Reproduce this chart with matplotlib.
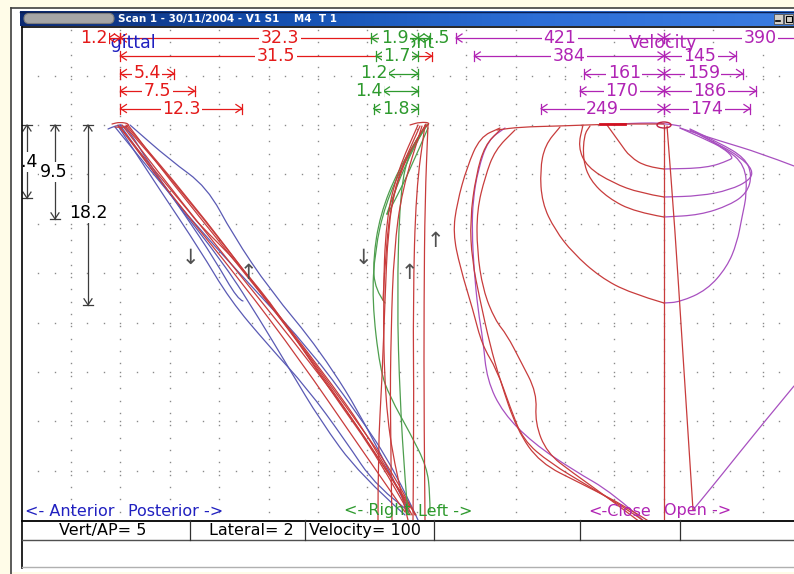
import numpy as np
import matplotlib
matplotlib.use("Agg")
import matplotlib.pyplot as plt
from matplotlib.patches import Rectangle, FancyBboxPatch, Ellipse, PathPatch
from matplotlib.path import Path
from matplotlib.colors import LinearSegmentedColormap

plt.rcParams['font.family'] = ['DejaVu Sans']

# ------------------------------------------------------------------ data
title_text = "Scan 1 - 30/11/2004 - V1 S1    M4  T 1"
panel_labels = ["Sagittal", "Front", "Velocity"]
sag_dir_labels = ["<- Anterior", "Posterior ->"]
lat_dir_labels = ["<- Right", "Left ->"]
vel_dir_labels = ["<-Close", "Open ->"]
status_texts = ["Vert/AP= 5", "Lateral= 2", "Velocity= 100"]

vert_ap_per_cell = 5.0      # mm per grid cell
lateral_per_cell = 2.0      # mm per grid cell
velocity_per_cell = 100.0   # units per grid cell

sag_first_value = 1.2
sag_row_values = [32.3, 31.5, 5.4, 7.5, 12.3]
sag_vertical_values = [7.4, 9.5, 18.2]
lat_left_values = [1.9, 1.7, 1.2, 1.4, 1.8]
lat_right_value_text = ".5"
vel_left_values = [421, 384, 161, 170, 249]
vel_right_values = [390, 145, 159, 186, 174]

# traces (screen units)
sag_red_traces = [
    [(118,125),(175,200),(240,280),(300,360),(355,440),(405,512)],
    [(122,125),(180,200),(248,285),(310,362),(368,440),(410,508)],
    [(125,126),(185,195),(255,285),(318,365),(375,445),(412,515)],
    [(128,125),(170,180),(230,255),(290,330),(345,405),(395,475),(415,515)],
    [(120,127),(150,165),(192,215),(197,222),(240,265),(280,315),(330,390),(380,460),(410,515)],
    [(126,125),(190,200),(255,285),(315,365),(370,445),(416,515)],
    [(112,124),(120,122),(130,124),(125,128),(115,127)],
]
sag_blue_traces = [
    [(108,129),(115,126),(125,124),(150,165),(185,215),(215,260),(238,300),(243,301)],
    [(118,126),(160,190),(200,250),(230,300),(268,345),(307,388),(345,440),(377,488),(410,512)],
    [(120,125),(170,195),(225,265),(260,320),(290,370),(320,420),(360,475),(405,515)],
    [(115,127),(150,170),(200,230),(255,290),(310,350),(355,410),(395,470),(418,520)],
    [(130,125),(170,160),(207,187),(233,235),(270,290),(320,350),(370,430),(408,510)],
]
lat_red_traces = [
    [(428,125),(425,200),(424,300),(424,420),(425,520)],
    [(425,125),(416,190),(413,300),(414,420),(413,520)],
    [(422,126),(402,190),(394,250),(391,330),(390,420),(392,520)],
    [(420,126),(396,180),(388,230),(385,300),(382,380),(378,450),(378,520)],
    [(418,125),(398,170),(386,220),(383,300),(385,400),(395,470),(408,520)],
    [(426,124),(405,160),(392,200),(386,245),(383,300)],
    [(410,125),(420,122),(432,123),(425,127)],
]
lat_green_traces = [
    [(428,124),(405,160),(385,205),(375,250),(372,300),(380,370),(390,397),(410,433),(427,467),(430,495),(430,512)],
    [(426,125),(398,170),(380,215),(373,260),(375,290),(385,303)],
    [(426,125),(405,165),(388,210),(386,217),(395,200),(410,170),(428,128)],
    [(426,125),(410,150),(400,190),(397,300),(400,400),(405,480),(408,515)],
]
vel_red_traces = [
    [(497,130),(520,127),(560,126),(613,124),(640,124),(664,124)],
    [(664,125),(664,520)],
    [(667,126),(675,230),(682,340),(693,510)],
    [(607,125),(620,143),(630,157),(647,167),(664,169)],
    [(583,125),(578,147),(587,167),(613,183),(640,193),(664,197)],
    [(590,126),(584,135),(583,160),(590,180),(608,198),(635,212),(664,217)],
    [(560,127),(545,145),(540,170),(542,203),(555,230),(573,253),(600,277),(630,293),(664,303)],
    [(500,128),(480,137),(467,167),(457,203),(453,233),(460,267),(473,310),(482,345),(497,370),(510,407),(523,440),(550,463),(590,487),(633,513),(645,522)],
    [(515,130),(495,150),(485,177),(477,210),(477,250),(483,290),(495,320),(507,335),(520,360),(537,393),(535,423),(547,453),(573,473),(607,497),(640,522)],
    [(500,130),(485,145),(476,175),(470,220),(472,260),(480,300),(490,345),(500,380),(517,430),(540,463),(580,483),(627,507),(650,522)],
]
vel_mag_traces = [
    [(664,169),(707,168),(730,160),(733,157),(723,148),(707,140),(680,128)],
    [(664,197),(700,196),(730,190),(750,180),(753,170),(740,157),(720,145),(690,130)],
    [(664,217),(700,215),(730,205),(747,193),(752,175),(745,158),(720,143),(690,129)],
    [(664,303),(680,302),(707,290),(727,267),(737,243),(742,217),(747,193),(745,165),(725,148),(695,132)],
    [(505,128),(488,140),(478,170),(473,200),(472,230),(474,270),(478,310),(483,340),(487,380),(503,413),(533,443),(573,470),(613,493),(645,522)],
    [(693,510),(720,477),(760,427),(794,386)],
    [(680,128),(720,141),(760,153),(794,166)],
    [(620,124),(640,123),(664,123),(680,126)],
]

# ------------------------------------------------------------------ figure
W, H = 794, 574
fig = plt.figure(figsize=(W / 100, H / 100), dpi=100)
fig.patch.set_facecolor('#FFFCE8')
ax = fig.add_axes([0, 0, 1, 1])
ax.axis('off')

RED_TXT = '#E41A1A'
RED_TR = '#C83C3C'
BLUE_TR = '#5A5AB4'
BLUE_TXT = '#2020C0'
GREEN_TXT = '#2E9A2E'
GREEN_TR = '#4E9E4E'
MAG = '#B024B4'
MAG_TR = '#A850C0'
GRAY = '#3C3C3C'
FS = 12.5

# window
ax.add_patch(Rectangle((11, 8), W - 11, 564, fc='white', ec='none', zorder=0))
ax.plot([11, 11], [8, 574], color='#404040', lw=1.2, zorder=9)
ax.plot([11, W], [8, 8], color='#404040', lw=1.2, zorder=9)

# title bar
grad = np.linspace(0, 1, 256).reshape(1, -1)
cmap = LinearSegmentedColormap.from_list('tb', ['#0C2A72', '#1450B0', '#2C6ED6', '#3A7CE0'])
ax.imshow(grad, extent=[20, W, 26, 11], cmap=cmap, aspect='auto', zorder=8, interpolation='bilinear')
ax.plot([20, W], [11.5, 11.5], color='#0A1E50', lw=1, zorder=9)
ax.add_patch(FancyBboxPatch((24, 13.5), 90, 10, boxstyle='round,pad=0,rounding_size=5',
                            fc='#A6A6A6', ec='#7C7C7C', lw=0.8, zorder=9))
ax.text(118, 19, title_text, color='white', fontsize=7.5, fontweight='bold',
        ha='left', va='center', zorder=10)
for bx in (774, 784):
    ax.add_patch(Rectangle((bx, 13.5), 9, 10, fc='#D4D0C8', ec='#505050', lw=0.6, zorder=10))
ax.plot([776, 780], [21, 21], color='black', lw=1.2, zorder=11)
ax.add_patch(Rectangle((786, 15.5), 6, 6, fc='none', ec='black', lw=0.8, zorder=11))

# plot area borders
ax.plot([22, W], [27, 27], color='black', lw=1.2, zorder=9)
ax.plot([22, 22], [27, 568], color='black', lw=1.2, zorder=9)

# dotted grid
cell = 49.4
col_x = 71 + cell * np.arange(15)
row_y = 75.5 + cell * np.arange(9)
row_y = row_y[row_y < 500]
for cx in col_x:
    ys = np.arange(30, 518, cell / 4)
    ax.plot(np.full_like(ys, cx), ys, ls='none', marker='s', ms=1.0, mec='none', mfc='#8A8A8A', zorder=1)
for ry in row_y:
    xs = np.arange(col_x[0] - 3 * cell / 3, W, cell / 3)
    xs = xs[xs > 24]
    ax.plot(xs, np.full_like(xs, ry), ls='none', marker='s', ms=1.0, mec='none', mfc='#8A8A8A', zorder=1)

# origins and scales
sag_x0, lat_x0, vel_x0, top_y = 120.4, 418.0, 664.0, 125.0
sag_px = cell / vert_ap_per_cell
lat_px = cell / lateral_per_cell
vel_px = cell / velocity_per_cell
row_ys = [38, 56, 73.5, 91, 108.5]

# traces drawn as smooth quadratic Bezier paths through the read points
def smooth_path(pts):
    a = np.array(pts, dtype=float)
    if len(a) < 3:
        return Path(a, [Path.MOVETO] + [Path.LINETO] * (len(a) - 1))
    verts = [a[0]]
    codes = [Path.MOVETO]
    verts.append((a[0] + a[1]) / 2)
    codes.append(Path.LINETO)
    for i in range(1, len(a) - 1):
        verts.append(a[i])
        verts.append((a[i] + a[i + 1]) / 2 if i < len(a) - 2 else a[i + 1])
        codes += [Path.CURVE3, Path.CURVE3]
    return Path(np.array(verts), codes)

def draw_traces(traces, color, lw=0.9, z=2):
    for tr in traces:
        ax.add_patch(PathPatch(smooth_path(tr), fc='none', ec=color, lw=lw, zorder=z,
                               joinstyle='round', capstyle='round'))

draw_traces(sag_blue_traces, BLUE_TR)
draw_traces(sag_red_traces, RED_TR)
draw_traces(lat_green_traces, GREEN_TR)
draw_traces(lat_red_traces, RED_TR)
draw_traces(vel_mag_traces, MAG_TR)
draw_traces(vel_red_traces, RED_TR)
ax.add_patch(Ellipse((vel_x0, 125), 14, 6, fc='none', ec='#C02040', lw=1.0, zorder=3))
ax.plot([600, 625], [124, 124], color='#D01020', lw=2.0, zorder=3)

# dimension helpers
def hend(x, y, side, color, z):
    ax.plot([x, x], [y - 5, y + 5], color=color, lw=0.9, zorder=z)
    ax.plot([x - side * 6, x, x - side * 6], [y - 4, y, y + 4], color=color, lw=0.9, zorder=z)

def hdim(x0, x1, y, color, label=None, pos='inside', z=5, ends=(True, True)):
    ax.plot([x0, min(x1, W + 5)], [y, y], color=color, lw=0.9, zorder=z)
    if ends[0]:
        hend(x0, y, -1, color, z)
    if ends[1] and x1 < W:
        hend(x1, y, +1, color, z)
    if label is not None:
        bb = dict(boxstyle='square,pad=0.08', fc='white', ec='none')
        if pos == 'inside':
            ax.text((x0 + x1) / 2, y, label, ha='center', va='center', color=color,
                    fontsize=FS, bbox=bb, zorder=z + 1)
        else:
            ax.text(x0 - 1, y, label, ha='right', va='center', color=color,
                    fontsize=FS, bbox=bb, zorder=z + 1)

def vend(x, y, side, color, z):
    ax.plot([x - 5, x + 5], [y, y], color=color, lw=0.9, zorder=z)
    ax.plot([x - 4, x, x + 4], [y - side * 6, y, y - side * 6], color=color, lw=0.9, zorder=z)

def vdim(x, y0, y1, color, z=5):
    ax.plot([x, x], [y0, y1], color=color, lw=0.9, zorder=z)
    vend(x, y0, -1, color, z)
    vend(x, y1, +1, color, z)

def fmt(v):
    return f"{v:g}"

# panel labels (drawn under the numbers)
ax.text(90, 43, panel_labels[0], color=BLUE_TXT, fontsize=FS, ha='left', va='center', zorder=7)
ax.text(412, 43, panel_labels[1], color=GREEN_TXT, fontsize=FS, ha='center', va='center', zorder=5,
        bbox=dict(boxstyle='square,pad=0.02', fc='white', ec='none'))
ax.text(663, 43, panel_labels[2], color=MAG, fontsize=FS, ha='center', va='center', zorder=7)

# sagittal dims
hdim(sag_x0 - sag_first_value * sag_px, sag_x0, row_ys[0], RED_TXT, fmt(sag_first_value), pos='outside', z=8)
for v, y in zip(sag_row_values, row_ys):
    hdim(sag_x0, sag_x0 + v * sag_px, y, RED_TXT, fmt(v), z=4)

# lateral dims
for v, y in zip(lat_left_values, row_ys):
    x0 = lat_x0 - v * lat_px
    hdim(x0, lat_x0, y, GREEN_TXT, fmt(v), pos='inside' if v * lat_px > 40 else 'outside', z=6)
hdim(lat_x0, lat_x0 + 12, row_ys[0], GREEN_TXT, None, z=6)
ax.text(433, row_ys[0], lat_right_value_text, color=GREEN_TXT, fontsize=FS, ha='left', va='center', zorder=7,
        bbox=dict(boxstyle='square,pad=0.02', fc='white', ec='none'))

# velocity dims
for vl, vr, y in zip(vel_left_values, vel_right_values, row_ys):
    hdim(vel_x0 - vl * vel_px, vel_x0, y, MAG, fmt(vl), z=5)
    hdim(vel_x0, vel_x0 + vr * vel_px, y, MAG, fmt(vr), z=5)

# vertical dims
vdim_x = [27, 55, 88]
for v, x in zip(sag_vertical_values, vdim_x):
    vdim(x, top_y, top_y + v * sag_px, GRAY)
bbv = dict(boxstyle='square,pad=0.05', fc='white', ec='none')
ax.text(38, 162, fmt(sag_vertical_values[0]), color='black', fontsize=FS, ha='right', va='center', zorder=6, bbox=bbv)
ax.text(54, 172, fmt(sag_vertical_values[1]), color='black', fontsize=FS, ha='center', va='center', zorder=6, bbox=bbv)
ax.text(88, 213, fmt(sag_vertical_values[2]), color='black', fontsize=FS, ha='center', va='center', zorder=6, bbox=bbv)
ax.add_patch(Rectangle((12, 27), 9.4, 541, fc='white', ec='none', zorder=8))

# direction arrows
for (ax_x, ay, s) in [(190, 258, '↓'), (248, 273, '↑'), (363, 258, '↓'), (409, 273, '↑'), (435, 241, '↑')]:
    ax.text(ax_x, ay, s, color='#505050', fontsize=15, ha='center', va='center', zorder=6)

# direction labels
ax.text(25, 511, sag_dir_labels[0], color=BLUE_TXT, fontsize=11.5, ha='left', va='center', zorder=7)
ax.text(128, 511, sag_dir_labels[1], color=BLUE_TXT, fontsize=11.5, ha='left', va='center', zorder=7)
ax.text(344, 511, lat_dir_labels[0], color=GREEN_TXT, fontsize=11.5, ha='left', va='center', zorder=7)
ax.text(418, 511, lat_dir_labels[1], color=GREEN_TXT, fontsize=11.5, ha='left', va='center', zorder=7)
ax.text(588, 511, vel_dir_labels[0], color=MAG, fontsize=11.5, ha='left', va='center', zorder=7)
ax.text(664, 511, vel_dir_labels[1], color=MAG, fontsize=11.5, ha='left', va='center', zorder=7)

# status bar
ax.add_patch(Rectangle((22, 520), W - 22, 48, fc='white', ec='none', zorder=7))
ax.plot([22, W], [520.5, 520.5], color='black', lw=1.3, zorder=9)
ax.plot([22, W], [540, 540], color='#505050', lw=1.0, zorder=9)
ax.plot([22, W], [567, 567], color='#B0B0B0', lw=1.0, zorder=9)
for dx in [190, 305, 434, 580, 680]:
    ax.plot([dx, dx], [520, 540], color='#303030', lw=0.9, zorder=9)
ax.text(103, 530.5, status_texts[0], fontsize=11.5, ha='center', va='center', zorder=10)
ax.text(251, 530.5, status_texts[1], fontsize=11.5, ha='center', va='center', zorder=10)
ax.text(309, 530.5, status_texts[2], fontsize=11.5, ha='left', va='center', zorder=10)

ax.set_xlim(0, W)
ax.set_ylim(H, 0)
fig.savefig('out.png', dpi=100, facecolor=fig.get_facecolor())
